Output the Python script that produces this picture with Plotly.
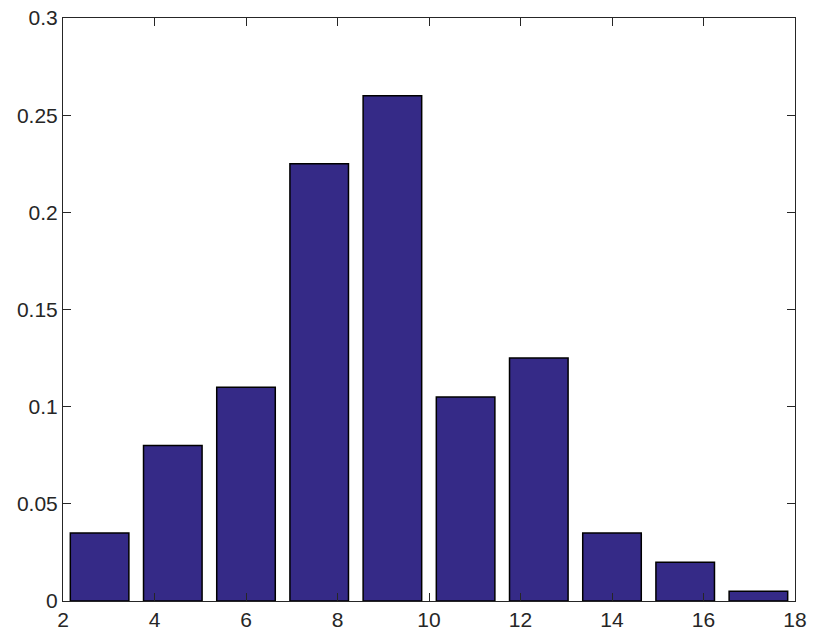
import plotly.graph_objects as go

# bin centres of the histogram (10 bins between 2 and 18)
bin_centers = [2.8, 4.4, 6.0, 7.6, 9.2, 10.8, 12.4, 14.0, 15.6, 17.2]
probabilities = [0.035, 0.08, 0.11, 0.225, 0.26, 0.105, 0.125, 0.035, 0.02, 0.005]
x_ticks = [2, 4, 6, 8, 10, 12, 14, 16, 18]
y_ticks = [0, 0.05, 0.1, 0.15, 0.2, 0.25, 0.3]
y_labels = ["0", "0.05", "0.1", "0.15", "0.2", "0.25", "0.3"]

fig = go.Figure()
fig.add_trace(go.Bar(
    x=bin_centers,
    y=probabilities,
    width=1.28,
    marker=dict(color="#352a87", line=dict(color="#000000", width=1.5)),
))

axis_style = dict(
    showline=True,
    linecolor="#262626",
    linewidth=1,
    mirror="ticks",
    ticks="inside",
    ticklen=8,
    tickcolor="#262626",
    showgrid=False,
    zeroline=False,
    automargin=False,
    ticklabeloverflow="allow",
    tickfont=dict(size=21, color="#262626"),
)

fig.update_layout(
    template="plotly_white",
    font=dict(family="Liberation Sans, Arial, sans-serif", color="#262626"),
    paper_bgcolor="white",
    plot_bgcolor="white",
    showlegend=False,
    width=830,
    height=642,
    margin=dict(l=63, r=35, t=18, b=41),
    xaxis=dict(range=[2, 18], tickvals=x_ticks, **axis_style),
    yaxis=dict(range=[0, 0.3], tickvals=y_ticks, ticktext=y_labels, **axis_style),
)

# drop the default 8px page margin so the figure fills the window
fig.write_html(
    "out.html",
    config={"displayModeBar": False},
    post_script="document.body.style.margin='0'; document.body.style.overflow='hidden';",
)
